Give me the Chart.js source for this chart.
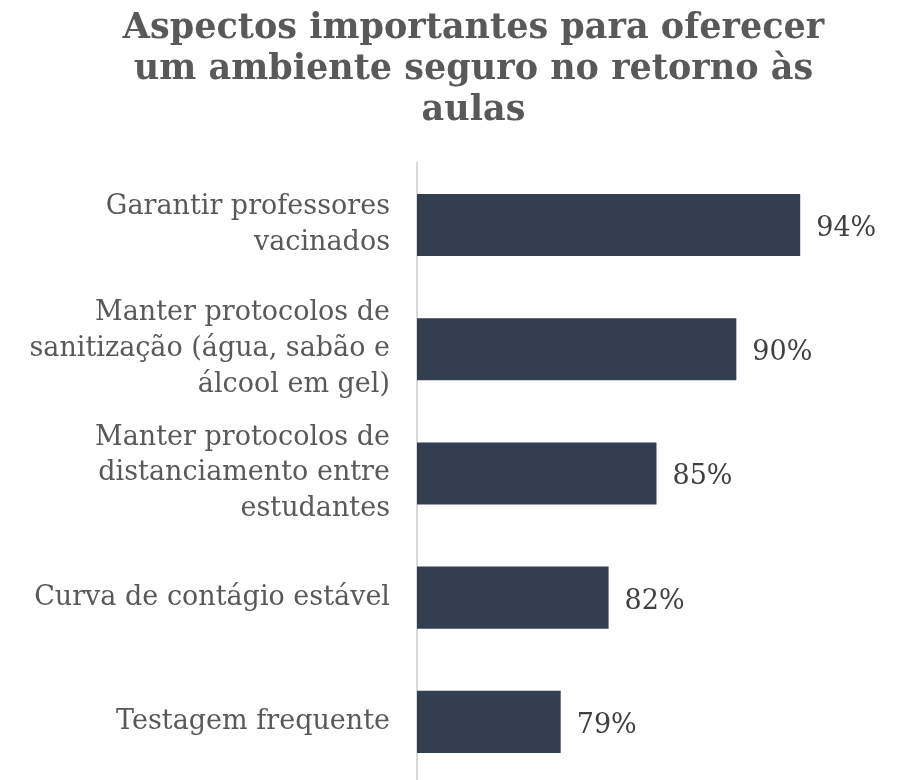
<!DOCTYPE html>
<html>
<head>
<meta charset="utf-8">
<script src="https://cdn.jsdelivr.net/npm/chart.js@4.4.1/dist/chart.umd.min.js"></script>
<style>
html,body{margin:0;padding:0;background:#fff;overflow:hidden;}
#wrap{position:relative;width:904px;height:784px;}
</style>
</head>
<body>
<div id="wrap"><canvas id="c" width="904" height="784"></canvas></div>
<script>
const titleLines = ["Aspectos importantes para oferecer", "um ambiente seguro no retorno às", "aulas"];
const categories = [
  ["Garantir professores", "vacinados"],
  ["Manter protocolos de", "sanitização (água, sabão e", "álcool em gel)"],
  ["Manter protocolos de", "distanciamento entre", "estudantes"],
  ["Curva de contágio estável"],
  ["Testagem frequente"]
];
const values = [94, 90, 85, 82, 79];
const valueLabels = ["94%", "90%", "85%", "82%", "79%"];
const axisMin = 70, axisMax = 100;

const FONT = "'DejaVu Serif', serif";

const barLabels = {
  id: 'barLabels',
  afterDatasetsDraw(chart) {
    const ctx = chart.ctx;
    const meta = chart.getDatasetMeta(0);
    ctx.save();
    ctx.font = "27px " + FONT;
    ctx.fillStyle = "#404040";
    ctx.textAlign = "left";
    ctx.textBaseline = "middle";
    meta.data.forEach((bar, i) => {
      ctx.fillText(valueLabels[i], bar.x + 16, bar.y + 4);
    });
    ctx.restore();
  }
};

const titleShift = {
  id: 'titleShift',
  afterLayout(chart) {
    if (chart.titleBlock) {
      chart.titleBlock.left += 13;
      chart.titleBlock.right += 13;
    }
  }
};

new Chart(document.getElementById('c'), {
  type: 'bar',
  data: {
    labels: categories,
    datasets: [{
      data: values,
      backgroundColor: '#333f50',
      borderWidth: 0,
      barPercentage: 0.5,
      categoryPercentage: 1.0
    }]
  },
  options: {
    indexAxis: 'y',
    responsive: false,
    animation: false,
    layout: { padding: { left: 25, right: 8, top: 8, bottom: 0 } },
    plugins: {
      legend: { display: false },
      tooltip: { enabled: false },
      title: {
        display: true,
        text: titleLines,
        color: '#595959',
        font: { family: FONT, size: 35, weight: 'bold', lineHeight: 1.18 },
        padding: { top: 0, bottom: 31 }
      }
    },
    scales: {
      x: {
        min: axisMin, max: axisMax,
        display: false,
        grid: { display: false }
      },
      y: {
        afterFit(scale) {
          scale.width = 392;
          scale.paddingTop = 0;
          scale.paddingBottom = 0;
        },
        grid: { display: false, drawTicks: false },
        border: { display: true, color: '#d9d9d9', width: 2 },
        ticks: {
          color: '#595959',
          padding: 27,
          font: { family: FONT, size: 27, lineHeight: 1.33 }
        }
      }
    }
  },
  plugins: [barLabels, titleShift]
});
</script>
</body>
</html>
